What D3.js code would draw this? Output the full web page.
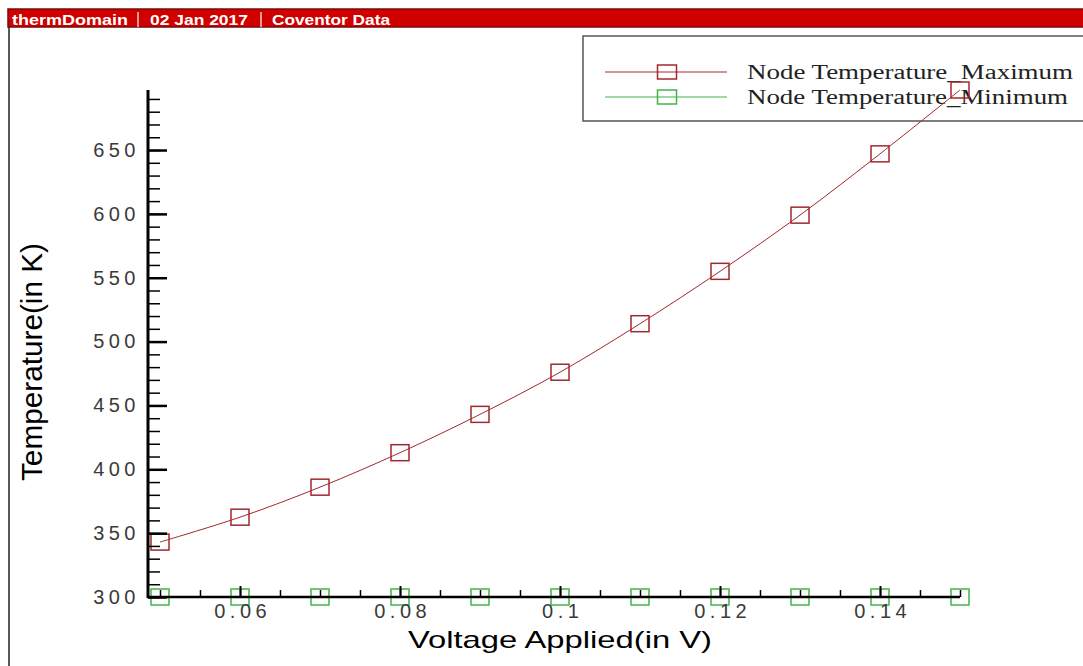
<!DOCTYPE html>
<html>
	<head>
		<meta charset="utf-8">
		<title>thermDomain</title>
		<script src="https://d3js.org/d3.v7.min.js"></script>
		<style type="text/css">
			body {margin: 0; background: #fff;}
			svg {display: block;}
			.tick text {font-family: Arial, 'Liberation Sans', sans-serif; font-size: 20px; fill: #3a3a3a; letter-spacing: 4.5px;}
		</style>
	</head>
	<body>
		<svg width=1083 height=666></svg>
	</body>
	<script type="text/javascript">
		// voltage (V) and node temperatures (K)
		var voltage = [0.05, 0.06, 0.07, 0.08, 0.09, 0.10, 0.11, 0.12, 0.13, 0.14, 0.15];
		var tempMax = [343, 362.5, 386, 413, 443, 476, 514, 555, 599, 647, 697];
		var tempMin = [300, 300, 300, 300, 300, 300, 300, 300, 300, 300, 300];
		var seriesNames = ["Node Temperature_Maximum", "Node Temperature_Minimum"];
		var seriesColors = ["#a3282c", "#3fb449"];
		var xMajorTicks = [0.06, 0.08, 0.10, 0.12, 0.14];
		var yMajorTicks = [300, 350, 400, 450, 500, 550, 600, 650];
		var headerParts = ["thermDomain", "02 Jan 2017", "Coventor Data"];

		var svg = d3.select("svg");

		var x = d3.scaleLinear().domain([0.0485, 0.15]).range([148, 960]),
		    y = d3.scaleLinear().domain([300, 697]).range([597, 90]);

		// header bar
		svg.append("rect").attr("x", 8).attr("y", 9).attr("width", 1080).attr("height", 18)
		    .attr("fill", "#d00000").attr("stroke", "#7a0a0a").attr("stroke-width", 1.5);
		var hx = [12, 150, 272], hw = [116, 98, 118];
		headerParts.forEach(function(t, i) {
		  svg.append("text").attr("x", hx[i]).attr("y", 24.5)
		      .attr("textLength", hw[i]).attr("lengthAdjust", "spacingAndGlyphs")
		      .style("font", "bold 15px Arial, 'Liberation Sans', sans-serif")
		      .attr("fill", "#fff").text(t);
		});
		[138, 261].forEach(function(sx) {
		  svg.append("line").attr("x1", sx).attr("x2", sx).attr("y1", 12).attr("y2", 27)
		      .attr("stroke", "#fff").attr("stroke-width", 1.2);
		});

		// left frame line
		svg.append("line").attr("x1", 9).attr("x2", 9).attr("y1", 27).attr("y2", 666)
		    .attr("stroke", "#222").attr("stroke-width", 1.5);

		// legend
		var lg = svg.append("g");
		lg.append("rect").attr("x", 583).attr("y", 36).attr("width", 520).attr("height", 85)
		    .attr("fill", "#fff").attr("stroke", "#555").attr("stroke-width", 1.5);
		seriesNames.forEach(function(name, i) {
		  var ly = 72 + i * 25;
		  lg.append("line").attr("x1", 605).attr("x2", 727).attr("y1", ly).attr("y2", ly)
		      .attr("stroke", seriesColors[i]).attr("stroke-width", 1);
		  lg.append("rect").attr("x", 667 - 9.5).attr("y", ly - 7).attr("width", 19).attr("height", 14)
		      .attr("fill", "none").attr("stroke", seriesColors[i]).attr("stroke-width", 1.5);
		  lg.append("text").attr("x", 747).attr("y", ly + 6.5)
		      .attr("textLength", i == 0 ? 326 : 321).attr("lengthAdjust", "spacingAndGlyphs")
		      .style("font", "20px 'Liberation Serif', 'Times New Roman', serif")
		      .attr("fill", "#222").text(name);
		});

		// series
		var series = [tempMax, tempMin];
		var line = d3.line()
		    .x(function(d, i) { return x(voltage[i]); })
		    .y(function(d) { return y(d); })
		    .curve(d3.curveCatmullRom);

		series.slice().reverse().forEach(function(vals, k) {
		  var i = series.length - 1 - k;
		  var g = svg.append("g");
		  g.append("path").datum(vals).attr("d", line)
		      .attr("fill", "none").attr("stroke", seriesColors[i]).attr("stroke-width", 1);
		  g.selectAll("rect").data(vals).enter().append("rect")
		      .attr("x", function(d, j) { return x(voltage[j]) - 9; })
		      .attr("y", function(d) { return y(d) - 8; })
		      .attr("width", 18).attr("height", 16)
		      .attr("fill", "none").attr("stroke", seriesColors[i]).attr("stroke-width", 1.5);
		});

		// x axis: minor then major ticks, pointing inward
		var xMinor = d3.range(0.05, 0.1501, 0.005);
		svg.append("g").attr("transform", "translate(0,597)")
		    .call(d3.axisBottom(x).tickValues(xMinor).tickSize(-7).tickFormat(""))
		    .call(function(g) { g.select(".domain").remove(); })
		    .selectAll("line").attr("stroke", "#000").attr("stroke-width", 1.5);
		var xg = svg.append("g").attr("transform", "translate(0,597)")
		    .call(d3.axisBottom(x).tickValues(xMajorTicks).tickSize(-11).tickPadding(7)
		      .tickFormat(function(d) { return d3.format("")(+d.toFixed(2)); }));
		xg.select(".domain").remove();
		xg.selectAll("line").attr("stroke", "#000").attr("stroke-width", 2);
		xg.selectAll("text").attr("dx", "2.2px");

		// y axis
		var yMinor = d3.range(300, 697, 10);
		svg.append("g").attr("transform", "translate(148,0)")
		    .call(d3.axisLeft(y).tickValues(yMinor).tickSize(-12).tickFormat(""))
		    .call(function(g) { g.select(".domain").remove(); })
		    .selectAll("line").attr("stroke", "#000").attr("stroke-width", 1.5);
		var yg = svg.append("g").attr("transform", "translate(148,0)")
		    .call(d3.axisLeft(y).tickValues(yMajorTicks).tickSize(-19).tickPadding(8));
		yg.select(".domain").remove();
		yg.selectAll("line").attr("stroke", "#000").attr("stroke-width", 2.5);

		// axis lines
		svg.append("line").attr("x1", 147).attr("x2", 960).attr("y1", 597).attr("y2", 597)
		    .attr("stroke", "#000").attr("stroke-width", 2.5);
		svg.append("line").attr("x1", 148).attr("x2", 148).attr("y1", 90).attr("y2", 598)
		    .attr("stroke", "#000").attr("stroke-width", 3);

		// axis titles
		svg.append("text").attr("x", 408).attr("y", 648)
		    .attr("textLength", 304).attr("lengthAdjust", "spacingAndGlyphs")
		    .style("font", "24px Arial, 'Liberation Sans', sans-serif").attr("fill", "#000")
		    .text("Voltage Applied(in V)");
		svg.append("text").attr("transform", "translate(42,362) rotate(-90)")
		    .attr("text-anchor", "middle")
		    .attr("textLength", 238).attr("lengthAdjust", "spacingAndGlyphs")
		    .style("font", "30px Arial, 'Liberation Sans', sans-serif").attr("fill", "#000")
		    .text("Temperature(in K)");
	</script>
</html>
